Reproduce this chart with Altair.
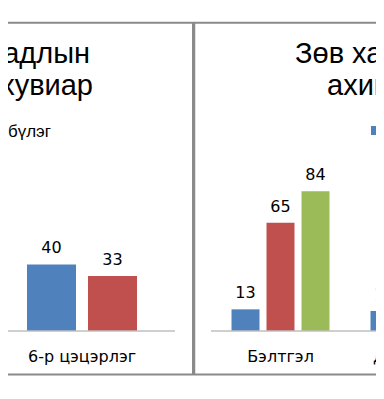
import altair as alt
import pandas as pd

# ---------------- data ----------------
left_categories = ["6-р цэцэрлэг"]
left_series = ["Туршилтын бүлэг", "Хяналтын бүлэг"]
left_values = {"Туршилтын бүлэг": [40], "Хяналтын бүлэг": [33]}

right_categories = ["Бэлтгэл", "Дунд хэсэг"]
right_series = ["Эхний үе", "Дунд үе", "Эцсийн үе"]
right_values = {"Эхний үе": [13, 12], "Дунд үе": [65, None], "Эцсийн үе": [84, None]}

left_title = ["дадлын", "хувиар"]
left_legend = "Хяналтын бүлэг"
right_title = ["Зөв хандлагын", "ахиц"]

colors = ["#4F81BD", "#C0504D", "#9BBB59"]

# ---------------- layout (view coords = page coords - 8) ----------------
FONT = "Liberation Sans"
SMALL_FONT = "DejaVu Sans"
W, H = 368, 370
FRAME_COLOR = "#8A8A8A"
BASE_Y = 323          # bar baseline
TOP_Y = 156.5         # position of the value 100
TITLE_SIZE = 29


def table(cats, series, values):
    rows = []
    for s in series:
        for c, v in zip(cats, values[s]):
            if v is not None:
                rows.append({"category": c, "series": s, "value": v})
    return pd.DataFrame(rows)


def one_row(**kw):
    return alt.Chart(pd.DataFrame(kw if kw else {"k": [0]}))


def text_layer(txt, x, y, size, align, font=FONT):
    return one_row(t=[txt]).mark_text(
        font=font, fontSize=size, align=align, baseline="alphabetic", color="#000000"
    ).encode(x=alt.value(x), y=alt.value(y), text="t:N")


def rule_layer(x, x2, y, y2, color, width):
    return one_row().mark_rule(color=color, strokeWidth=width).encode(
        x=alt.value(x), x2=alt.value(x2), y=alt.value(y), y2=alt.value(y2)
    )


def panel(cats, series, values, x_range, p_in, p_out, axis_x0, axis_x1, extras):
    df = table(cats, series, values)
    xs = alt.Scale(domain=cats, range=x_range, paddingInner=0, paddingOuter=0)
    ys = alt.Scale(domain=[0, 100], range=[BASE_Y, TOP_Y])
    base = alt.Chart(df).encode(
        x=alt.X("category:N", sort=cats, scale=xs, axis=None),
        xOffset=alt.XOffset(
            "series:N", sort=series,
            scale=alt.Scale(domain=series, paddingInner=p_in, paddingOuter=p_out),
        ),
        y=alt.Y("value:Q", scale=ys, axis=None),
        color=alt.Color("series:N", scale=alt.Scale(domain=series, range=colors[: len(series)]), legend=None),
    )
    bars = base.mark_bar()
    labels = base.mark_text(font=SMALL_FONT, fontSize=16, dy=-11, baseline="alphabetic").encode(
        text="value:Q", color=alt.value("#000000")
    )
    cat_labels = alt.Chart(pd.DataFrame({"category": cats})).mark_text(
        font=SMALL_FONT, fontSize=16, baseline="alphabetic", color="#000000"
    ).encode(
        x=alt.X("category:N", sort=cats, axis=None),
        y=alt.value(354),
        text="category:N",
    )
    baseline = rule_layer(axis_x0, axis_x1, BASE_Y, BASE_Y, "#BFBFBF", 1.5)
    return alt.layer(bars, labels, cat_labels, baseline, *extras)


left = panel(
    left_categories, left_series, left_values,
    [-19, 167], 12 / 61, 0.623, -8, 167,
    [
        text_layer(left_title[0], 82, 55, TITLE_SIZE, "right"),
        text_layer(left_title[1], 85, 87, TITLE_SIZE, "right"),
        text_layer(left_legend, 43, 129, 17, "right"),
    ],
)

legend_sym = one_row(s=[right_series[0]]).mark_square(size=81, opacity=1).encode(
    x=alt.value(367.5), y=alt.value(122.5), color=alt.value(colors[0])
)

right = panel(
    right_categories, right_series, right_values,
    [203, 203 + 139 * 2], 0.2, 0.586, 203, 481,
    [
        text_layer(right_title[0], 287, 55, TITLE_SIZE, "left"),
        text_layer(right_title[1], 319, 87, TITLE_SIZE, "left"),
        legend_sym,
        text_layer(right_series[0], 380, 129, 16, "left", SMALL_FONT),
    ],
)

frames = alt.layer(
    rule_layer(-10, W + 10, 14.7, 14.7, FRAME_COLOR, 2),
    rule_layer(-10, W + 10, 366.5, 366.5, FRAME_COLOR, 2),
    rule_layer(185, 185, 14.7, 366.5, FRAME_COLOR, 2),
    rule_layer(186.5, 186.5, 14.7, 366.5, FRAME_COLOR, 1.5),
)

chart = alt.layer(left, right, frames).resolve_scale(
    x="independent", xOffset="independent", color="independent"
).properties(
    width=W, height=H,
    autosize=alt.AutoSizeParams(type="none"),
    padding=0,
).configure_view(stroke="transparent")

chart.save("out.html", embed_options={"renderer": "svg", "actions": False})
